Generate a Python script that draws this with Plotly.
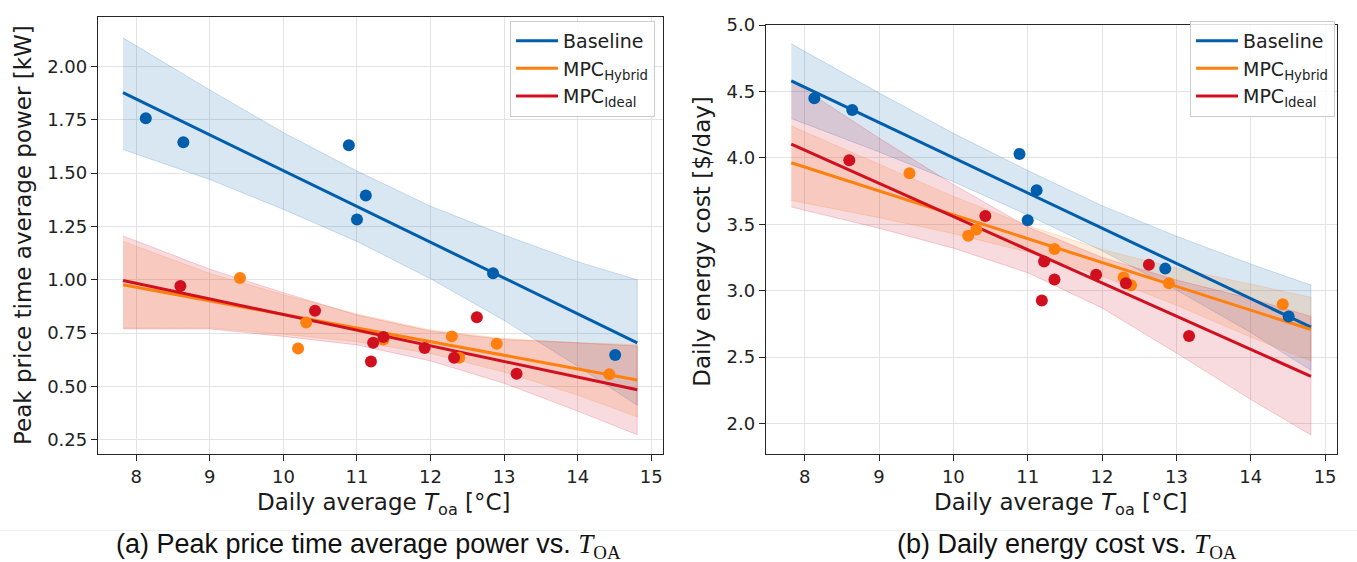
import plotly.graph_objects as go

# ---------------- data ----------------
temp_baseline = [8.13, 8.64, 10.89, 11.00, 11.12, 12.85, 14.51]
peak_baseline = [1.757, 1.645, 1.631, 1.283, 1.395, 1.031, 0.648]
cost_baseline = [4.45, 4.36, 4.03, 3.53, 3.757, 3.166, 2.806]

temp_hybrid = [9.41, 10.20, 10.31, 11.36, 12.29, 12.39, 12.90, 14.43]
peak_hybrid = [1.009, 0.678, 0.80, 0.72, 0.735, 0.635, 0.70, 0.558]
cost_hybrid = [3.884, 3.413, 3.46, 3.314, 3.10, 3.04, 3.055, 2.898]

temp_ideal = [8.60, 10.43, 11.19, 11.22, 11.36, 11.92, 12.32, 12.63, 13.17]
peak_ideal = [0.971, 0.855, 0.617, 0.705, 0.732, 0.68, 0.635, 0.825, 0.56]
cost_ideal = [3.983, 3.562, 2.925, 3.22, 3.084, 3.12, 3.055, 3.196, 2.658]

# regression lines and confidence bands, sampled at fit_x
fit_x = [7.82, 9, 10, 11, 12, 13, 14, 14.81]

base_peak_fit = [1.877, 1.679, 1.511, 1.344, 1.176, 1.008, 0.841, 0.705]
base_peak_hi = [2.134, 1.89, 1.69, 1.51, 1.345, 1.21, 1.085, 1.0]
base_peak_lo = [1.611, 1.47, 1.33, 1.18, 1.005, 0.81, 0.595, 0.412]
hyb_peak_fit = [0.977, 0.902, 0.838, 0.774, 0.710, 0.646, 0.583, 0.531]
hyb_peak_hi = [1.18, 1.03, 0.93, 0.84, 0.765, 0.725, 0.705, 0.697]
hyb_peak_lo = [0.774, 0.775, 0.745, 0.71, 0.655, 0.568, 0.46, 0.358]
ideal_peak_fit = [0.997, 0.911, 0.838, 0.765, 0.691, 0.618, 0.545, 0.485]
ideal_peak_hi = [1.206, 1.05, 0.94, 0.835, 0.76, 0.72, 0.705, 0.69]
ideal_peak_lo = [0.77, 0.77, 0.735, 0.695, 0.62, 0.515, 0.385, 0.274]

base_cost_fit = [4.58, 4.267, 4.002, 3.737, 3.472, 3.207, 2.942, 2.725]
base_cost_hi = [4.859, 4.49, 4.185, 3.905, 3.64, 3.41, 3.20, 3.042]
base_cost_lo = [4.297, 4.045, 3.82, 3.57, 3.30, 3.005, 2.685, 2.40]
hyb_cost_fit = [3.963, 3.751, 3.572, 3.392, 3.213, 3.033, 2.854, 2.707]
hyb_cost_hi = [4.24, 3.95, 3.71, 3.49, 3.31, 3.17, 3.05, 2.95]
hyb_cost_lo = [3.68, 3.55, 3.43, 3.29, 3.11, 2.89, 2.65, 2.47]
ideal_cost_fit = [4.104, 3.809, 3.559, 3.309, 3.059, 2.809, 2.56, 2.355]
ideal_cost_hi = [4.58, 4.15, 3.80, 3.48, 3.25, 3.08, 2.94, 2.806]
ideal_cost_lo = [3.63, 3.47, 3.32, 3.135, 2.87, 2.53, 2.18, 1.913]

x_ticks = [8, 9, 10, 11, 12, 13, 14, 15]
peak_ticks = [0.25, 0.50, 0.75, 1.00, 1.25, 1.50, 1.75, 2.00]
cost_ticks = [2.0, 2.5, 3.0, 3.5, 4.0, 4.5, 5.0]

names = ["Baseline", "MPC<sub>Hybrid</sub>", "MPC<sub>Ideal</sub>"]
colors = ["#005eac", "#ff800e", "#d1101f"]
rgb = [(0, 94, 172), (255, 128, 14), (209, 16, 31)]

W, H = 1357, 562
fig = go.Figure()

panels = [
    dict(xa="x", ya="y", leg="legend",
         temps=[temp_baseline, temp_hybrid, temp_ideal],
         vals=[peak_baseline, peak_hybrid, peak_ideal],
         fits=[base_peak_fit, hyb_peak_fit, ideal_peak_fit],
         his=[base_peak_hi, hyb_peak_hi, ideal_peak_hi],
         los=[base_peak_lo, hyb_peak_lo, ideal_peak_lo]),
    dict(xa="x2", ya="y2", leg="legend2",
         temps=[temp_baseline, temp_hybrid, temp_ideal],
         vals=[cost_baseline, cost_hybrid, cost_ideal],
         fits=[base_cost_fit, hyb_cost_fit, ideal_cost_fit],
         his=[base_cost_hi, hyb_cost_hi, ideal_cost_hi],
         los=[base_cost_lo, hyb_cost_lo, ideal_cost_lo]),
]

for p in panels:
    # bands
    for i in range(3):
        r, g, b = rgb[i]
        fig.add_trace(go.Scatter(
            x=fit_x + fit_x[::-1], y=p["his"][i] + p["los"][i][::-1],
            xaxis=p["xa"], yaxis=p["ya"], mode="lines", fill="toself",
            fillcolor=f"rgba({r},{g},{b},0.15)",
            line=dict(color=f"rgba({r},{g},{b},0.18)", width=1),
            showlegend=False, hoverinfo="skip"))
    # fitted lines
    for i in range(3):
        fig.add_trace(go.Scatter(
            x=[fit_x[0], fit_x[-1]], y=[p["fits"][i][0], p["fits"][i][-1]],
            xaxis=p["xa"], yaxis=p["ya"], mode="lines",
            line=dict(color=colors[i], width=3), name=names[i],
            legend=p["leg"], showlegend=True))
    # points
    for i in range(3):
        fig.add_trace(go.Scatter(
            x=p["temps"][i], y=p["vals"][i], xaxis=p["xa"], yaxis=p["ya"],
            mode="markers", marker=dict(color=colors[i], size=12, line=dict(width=0)),
            showlegend=False))

ax_common = dict(showline=True, mirror=True, linecolor="#262626", linewidth=1.3,
                 ticks="outside", ticklen=6, tickwidth=1.2, tickcolor="#262626",
                 showgrid=True, gridcolor="#e3e3e3", gridwidth=1, zeroline=False,
                 tickfont=dict(family="DejaVu Sans", size=18, color="#222"))

y_bot = (H - 452) / H
leg_common = dict(xanchor="right", yanchor="top",
                  font=dict(family="DejaVu Sans", size=19, color="#222"),
                  bgcolor="rgba(255,255,255,0.85)", bordercolor="#cccccc", borderwidth=1,
                  itemwidth=42, tracegroupgap=0)
fig.update_layout(
    width=W, height=H, autosize=False,
    margin=dict(l=0, r=0, t=0, b=0),
    paper_bgcolor="white", plot_bgcolor="white",
    xaxis=dict(domain=[98 / W, 663 / W], range=[7.48, 15.16], tickvals=x_ticks,
               anchor="y", **ax_common),
    yaxis=dict(domain=[y_bot, (H - 7.5) / H], range=[0.184, 2.23], tickvals=peak_ticks,
               tickformat=".2f", anchor="x", **ax_common),
    xaxis2=dict(domain=[766 / W, 1337 / W], range=[7.48, 15.16], tickvals=x_ticks,
                anchor="y2", **ax_common),
    yaxis2=dict(domain=[y_bot, (H - 15) / H], range=[1.77, 5.003], tickvals=cost_ticks,
                tickformat=".1f", anchor="x2", **ax_common),
    legend=dict(x=655 / W, y=(H - 11) / H, **leg_common),
    legend2=dict(x=1335 / W, y=(H - 11) / H, **leg_common),
)

lab_font = dict(family="DejaVu Sans", size=23, color="#1a1a1a")
cap_font = dict(family="Liberation Sans, Arial", size=27, color="#111")
xtitle = "Daily average <i>T</i><sub>oa</sub> [°C]"
toa = "<span style='font-family:Liberation Serif'><i>T</i><sub>OA</sub></span>"
ann = [
    dict(x=384 / W, y=(H - 503) / H, text=xtitle, font=lab_font),
    dict(x=1061 / W, y=(H - 503) / H, text=xtitle, font=lab_font),
    dict(x=23 / W, y=(H - 229) / H, text="Peak price time average power [kW]",
         textangle=-90, font=lab_font),
    dict(x=702 / W, y=(H - 236) / H, text="Daily energy cost [$/day]",
         textangle=-90, font=lab_font),
    dict(x=368 / W, y=(H - 546) / H, text="(a) Peak price time average power vs. " + toa,
         font=cap_font),
    dict(x=1067 / W, y=(H - 546) / H, text="(b) Daily energy cost vs. " + toa,
         font=cap_font),
]
for a in ann:
    a.update(xref="paper", yref="paper", showarrow=False, xanchor="center", yanchor="middle")
fig.update_layout(annotations=ann)

fig.add_shape(type="line", xref="paper", yref="paper", x0=0, x1=1,
              y0=(H - 530) / H, y1=(H - 530) / H, line=dict(color="#efefef", width=1))

fig.write_html("out.html")
